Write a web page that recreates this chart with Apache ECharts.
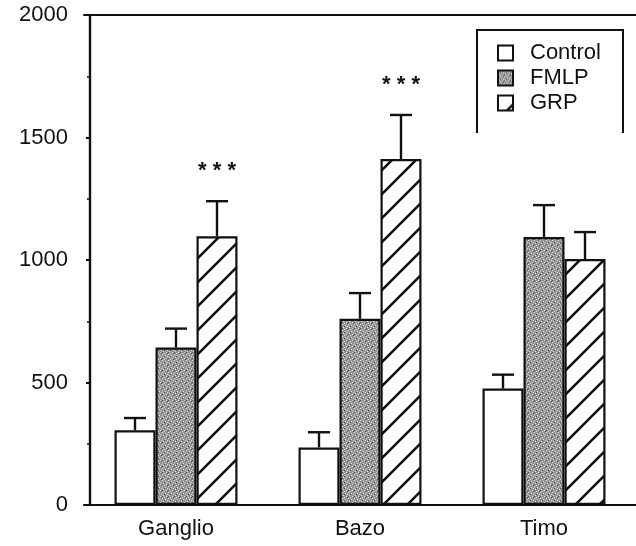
<!DOCTYPE html>
<html>
<head>
<meta charset="utf-8">
<script src="https://cdn.jsdelivr.net/npm/echarts@6/dist/echarts.min.js"></script>
<style>
  html, body { margin: 0; padding: 0; background: #fff; }
  #chart { width: 636px; height: 546px; }
</style>
</head>
<body>
<div id="chart"></div>
<script>
// Tissue groups on the x axis
const categories = ['Ganglio', 'Bazo', 'Timo'];

// Mean response per treatment and the upper error (SEM) of each mean
const controlValues = [305, 235, 475];
const controlErr    = [50, 62, 57];
const fmlpValues    = [643, 760, 1094];
const fmlpErr       = [77, 105, 130];
const grpValues     = [1097, 1412, 1004];
const grpErr        = [143, 180, 110];

// Significance marks above the GRP bars
const grpSignificance = ['* * *', '* * *', ''];

// Y axis ticks
const yTicks = [0, 500, 1000, 1500, 2000];

const BAR_W = 41;
const INK = '#111';
const FONT = '"Liberation Sans", Arial, Helvetica, sans-serif';

// Diagonal "/" hatching used for the GRP bars
function hatchPattern() {
  const s = 24;
  const c = document.createElement('canvas');
  c.width = s; c.height = s;
  const g = c.getContext('2d');
  g.fillStyle = '#fff';
  g.fillRect(0, 0, s, s);
  g.strokeStyle = INK;
  g.lineWidth = 2.6;
  g.beginPath();
  g.moveTo(-2, s + 2); g.lineTo(s + 2, -2);
  g.moveTo(-2 - s, s + 2); g.lineTo(2, -2);
  g.moveTo(s - 2, s + 2); g.lineTo(2 * s + 2, -2);
  g.stroke();
  return c;
}

// Fine grey stipple used for the FMLP bars
function stipplePattern() {
  const s = 6;
  const c = document.createElement('canvas');
  c.width = s; c.height = s;
  const g = c.getContext('2d');
  g.fillStyle = '#959595';
  g.fillRect(0, 0, s, s);
  g.fillStyle = '#dedede';
  [[0,0],[3,1],[1,3],[4,4],[2,5],[5,2]].forEach(p => g.fillRect(p[0], p[1], 1, 1));
  g.fillStyle = '#555';
  [[2,2],[5,5],[0,4]].forEach(p => g.fillRect(p[0], p[1], 1, 1));
  return c;
}

const barSeries = [
  { name: 'Control', data: controlValues, err: controlErr, fill: '#fff', offset: -BAR_W },
  { name: 'FMLP', data: fmlpValues, err: fmlpErr, fill: { image: stipplePattern(), repeat: 'repeat' }, offset: 0 },
  { name: 'GRP', data: grpValues, err: grpErr, fill: { image: hatchPattern(), repeat: 'repeat' }, offset: BAR_W }
];

const series = [];
barSeries.forEach(s => {
  series.push({
    name: s.name,
    type: 'bar',
    data: s.data,
    barWidth: BAR_W,
    barGap: '0%',
    itemStyle: { color: s.fill, borderColor: INK, borderWidth: 2.2 },
    emphasis: { disabled: true },
    z: 2
  });
});

// Error bars (upper whisker with a cap) and significance stars
barSeries.forEach(s => {
  series.push({
    type: 'custom',
    silent: true,
    z: 3,
    data: s.data.map((v, i) => [i, v, v + s.err[i]]),
    renderItem: function (params, api) {
      const i = api.value(0);
      const base = api.coord([i, api.value(1)]);
      const top = api.coord([i, api.value(2)]);
      const x = base[0] + s.offset;
      const capHalf = 11;
      const children = [
        { type: 'line', shape: { x1: x, y1: base[1], x2: x, y2: top[1] }, style: { stroke: INK, lineWidth: 2.4 } },
        { type: 'line', shape: { x1: x - capHalf, y1: top[1], x2: x + capHalf, y2: top[1] }, style: { stroke: INK, lineWidth: 2.4 } }
      ];
      if (s.name === 'GRP' && grpSignificance[i]) {
        children.push({
          type: 'text',
          style: {
            x: x, y: top[1] - 30, text: grpSignificance[i],
            fill: INK, font: 'bold 22px ' + FONT,
            align: 'center', verticalAlign: 'middle'
          }
        });
      }
      return { type: 'group', children: children };
    }
  });
});

const chart = echarts.init(document.getElementById('chart'), null, { renderer: 'canvas' });
chart.setOption({
  animation: false,
  backgroundColor: '#fff',
  textStyle: { fontFamily: FONT, color: INK },
  grid: { left: 84, top: 15, width: 558, height: 490 },
  legend: {
    orient: 'vertical',
    left: 492, top: 37,
    itemWidth: 15, itemHeight: 15, itemGap: 3,
    icon: 'rect',
    selectedMode: false,
    data: ['Control', 'FMLP', 'GRP'],
    textStyle: { fontSize: 22, color: INK, padding: [0, 0, 0, 12] }
  },
  xAxis: [{
    type: 'category',
    data: categories,
    axisLine: { lineStyle: { color: INK, width: 2.2 } },
    axisTick: { show: false },
    axisLabel: { fontSize: 22, color: INK, margin: 13 }
  }, {
    type: 'category',
    position: 'top',
    data: categories,
    axisLine: { lineStyle: { color: INK, width: 2 } },
    axisTick: { show: false },
    axisLabel: { show: false }
  }],
  yAxis: {
    type: 'value',
    min: yTicks[0], max: yTicks[yTicks.length - 1], interval: 500,
    offset: -6,
    axisLine: { show: true, lineStyle: { color: INK, width: 2.4 } },
    axisTick: { show: true, inside: false, length: 4, lineStyle: { color: INK, width: 2 } },
    minorTick: { show: true, splitNumber: 2, length: 3, lineStyle: { color: INK, width: 1.5 } },
    splitLine: { show: false },
    axisLabel: { fontSize: 22, color: INK, margin: 22, formatter: v => String(v) }
  },
  graphic: [{
    type: 'polyline',
    silent: true,
    shape: { points: [[477, 133], [477, 30], [623, 30], [623, 133]] },
    style: { stroke: INK, lineWidth: 2, fill: null }
  }],
  series: series
});
</script>
</body>
</html>
